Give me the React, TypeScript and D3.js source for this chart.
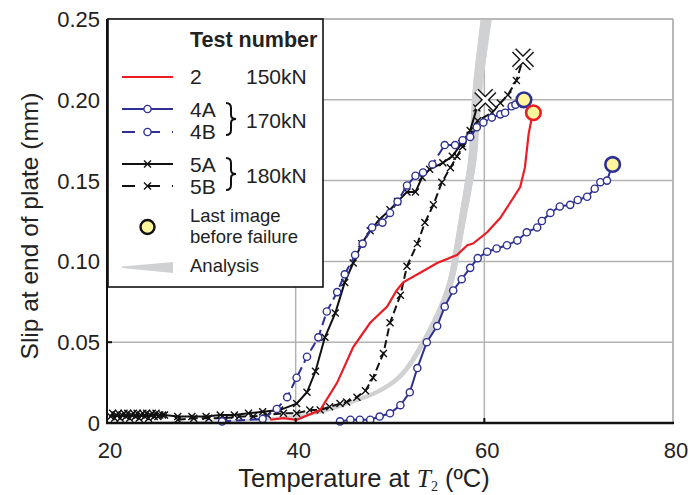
import * as d3 from "d3";

// ---- data (temperature °C, slip mm) ----
const tempTicks = [20, 40, 60, 80];
const slipTicks = [0, 0.05, 0.1, 0.15, 0.2, 0.25];
const slipTickLabels = ["0", "0.05", "0.10", "0.15", "0.20", "0.25"];

const test2: [number, number][] = [
  [37.3, 0.002], [38.7, 0.003], [40.1, 0.002], [42.6, 0.008], [44.4, 0.025],
  [46.1, 0.047], [47.9, 0.062], [49.7, 0.072], [50.7, 0.082], [51.4, 0.087],
  [53.2, 0.093], [55.0, 0.099], [57.1, 0.104], [58.2, 0.11], [58.8, 0.111],
  [60.3, 0.118], [61.7, 0.127], [62.7, 0.136], [63.8, 0.146], [64.3, 0.158],
  [64.7, 0.179], [65.1, 0.191],
];
const test2Last: [number, number] = [65.2, 0.192];

const test4A: [number, number][] = [
  [44.7, 0.001], [45.8, 0.002], [46.8, 0.002], [47.9, 0.002], [48.9, 0.004],
  [50.0, 0.006], [51.1, 0.011], [52.1, 0.019], [52.9, 0.034], [53.9, 0.05],
  [55.0, 0.06], [55.8, 0.072], [56.7, 0.082], [57.6, 0.089], [58.5, 0.096],
  [59.3, 0.102], [60.3, 0.106], [61.3, 0.108], [62.4, 0.11], [63.5, 0.113],
  [64.5, 0.118], [65.6, 0.121], [66.1, 0.125], [67.0, 0.13], [68.0, 0.134],
  [69.1, 0.135], [69.9, 0.138], [70.9, 0.14], [71.7, 0.145], [72.3, 0.149],
  [73.0, 0.15],
];
const test4ALast: [number, number] = [73.6, 0.16];

const test4B: [number, number][] = [
  [32.2, 0.001], [36.5, 0.0025], [38.0, 0.0087], [39.1, 0.016], [40.1, 0.028],
  [41.2, 0.041], [42.4, 0.053], [43.3, 0.069], [44.4, 0.081], [45.2, 0.092],
  [46.3, 0.104], [47.1, 0.111], [48.1, 0.121], [49.2, 0.124], [50.0, 0.13],
  [50.8, 0.137], [51.8, 0.147], [52.7, 0.153], [53.5, 0.155], [54.5, 0.16],
  [55.8, 0.172], [56.9, 0.172], [57.7, 0.175], [58.5, 0.177], [59.2, 0.183],
  [59.9, 0.186], [60.8, 0.189], [61.7, 0.191], [62.2, 0.192], [62.9, 0.196],
  [63.3, 0.197],
];
const test4BLast: [number, number] = [64.2, 0.2];

const test5A: [number, number][] = [
  [20.4, 0.004], [20.6, 0.006], [20.8, 0.003], [21.0, 0.005], [21.2, 0.006],
  [21.4, 0.003], [21.6, 0.005], [21.8, 0.006], [22.0, 0.004], [22.2, 0.006],
  [22.4, 0.003], [22.6, 0.005], [22.8, 0.006], [23.0, 0.004], [23.2, 0.006],
  [23.4, 0.003], [23.6, 0.005], [23.8, 0.006], [24.0, 0.004], [24.2, 0.006],
  [24.4, 0.003], [24.6, 0.005], [24.8, 0.006], [25.0, 0.004], [25.2, 0.006],
  [25.4, 0.004], [25.6, 0.005], [25.9, 0.005], [26.1, 0.005],
  [27.5, 0.004], [29.0, 0.004], [30.5, 0.004], [32.0, 0.005], [33.5, 0.005],
  [35.0, 0.006], [36.5, 0.007], [38.3, 0.008], [40.1, 0.012], [41.2, 0.019],
  [42.1, 0.032], [43.1, 0.053], [44.2, 0.068], [45.2, 0.087], [46.1, 0.099],
  [47.0, 0.111], [47.9, 0.119], [48.9, 0.126], [50.0, 0.132], [50.8, 0.137],
  [51.8, 0.143], [52.7, 0.143], [53.4, 0.152], [54.2, 0.157], [55.6, 0.161],
  [56.6, 0.165], [57.6, 0.173], [58.5, 0.181], [59.2, 0.195],
];
const test5ALast: [number, number] = [60.1, 0.2];

const test5B: [number, number][] = [
  [27.5, 0.002], [29.2, 0.003], [30.8, 0.003], [32.5, 0.003], [34.0, 0.004],
  [35.5, 0.004], [37.0, 0.005], [38.7, 0.006], [40.1, 0.006], [41.5, 0.008],
  [42.6, 0.008], [43.6, 0.01], [44.7, 0.012], [45.4, 0.013], [46.5, 0.016],
  [47.4, 0.02], [48.2, 0.028], [49.3, 0.043], [50.0, 0.062], [51.1, 0.079],
  [51.8, 0.097], [52.9, 0.111], [53.7, 0.124], [54.6, 0.135], [55.5, 0.149],
  [56.4, 0.158], [57.1, 0.165], [57.7, 0.171], [58.5, 0.178], [59.3, 0.187],
  [60.8, 0.192], [61.7, 0.198], [62.5, 0.203], [63.4, 0.212],
];
const test5BLast: [number, number] = [64.1, 0.225];

const analysis: [number, number][] = [
  [20, 0], [26, 0.0005], [32, 0.001], [38, 0.003], [42, 0.006], [45.4, 0.012],
  [48.9, 0.02], [51.4, 0.031], [53.5, 0.0495], [55.3, 0.07], [56.4, 0.087],
  [57.1, 0.107], [57.7, 0.127], [58.3, 0.147], [58.8, 0.167], [59.3, 0.208],
  [60.2, 0.25],
];

// ---- layout ----
const W = 690;
const H = 495;
const M = { left: 107, right: 673, top: 19, bottom: 423 };
const RED = "#ec1c24";
const BLUE = "#2e3192";
const YELLOW = "#fff59d";
const GRID = "#b3b3b3";
const BAND = "#d0d1d3";
const FONT = "'Liberation Sans', Arial, Helvetica, sans-serif";
const SERIF = "'Liberation Serif', 'Times New Roman', serif";

const x = d3.scaleLinear().domain([20, 80]).range([M.left, M.right]);
const y = d3.scaleLinear().domain([0, 0.25]).range([M.bottom, M.top]);

const line = d3
  .line<[number, number]>()
  .x((d) => x(d[0]))
  .y((d) => y(d[1]));

const Cross = ({ cx, cy, s = 3.5, w = 1.4 }: { cx: number; cy: number; s?: number; w?: number }) => (
  <path
    d={`M${cx - s},${cy - s}L${cx + s},${cy + s}M${cx - s},${cy + s}L${cx + s},${cy - s}`}
    stroke="#111"
    strokeWidth={w}
    fill="none"
  />
);

const BigCross = ({ cx, cy }: { cx: number; cy: number }) => {
  const s = 9;
  const d = `M${cx - s},${cy - s}L${cx + s},${cy + s}M${cx - s},${cy + s}L${cx + s},${cy - s}`;
  return (
    <g>
      <path d={d} stroke="#111" strokeWidth={6} fill="none" />
      <path d={d} stroke="#fff" strokeWidth={3.2} fill="none" />
    </g>
  );
};

const Brace = ({ bx, y0, y1 }: { bx: number; y0: number; y1: number }) => {
  const ym = (y0 + y1) / 2;
  const d = `M${bx},${y0} Q${bx + 5},${y0} ${bx + 5},${y0 + 5} L${bx + 5},${ym - 4} Q${bx + 5},${ym} ${bx + 10},${ym} Q${bx + 5},${ym} ${bx + 5},${ym + 4} L${bx + 5},${y1 - 5} Q${bx + 5},${y1} ${bx},${y1}`;
  return <path d={d} stroke="#111" strokeWidth={2} fill="none" />;
};

// analysis band: smooth (Catmull-Rom) centre line in pixels, width growing along it
function bandSegments() {
  const p = analysis.map((d) => [x(d[0]), y(d[1])]);
  const dense: number[][] = [];
  for (let i = 0; i < p.length - 1; i++) {
    const p0 = p[Math.max(0, i - 1)];
    const p1 = p[i];
    const p2 = p[i + 1];
    const p3 = p[Math.min(p.length - 1, i + 2)];
    for (let k = 0; k < 12; k++) {
      const t = k / 12;
      const t2 = t * t;
      const t3 = t2 * t;
      const c = (j: number) =>
        0.5 *
        (2 * p1[j] +
          (-p0[j] + p2[j]) * t +
          (2 * p0[j] - 5 * p1[j] + 4 * p2[j] - p3[j]) * t2 +
          (-p0[j] + 3 * p1[j] - 3 * p2[j] + p3[j]) * t3);
      dense.push([c(0), c(1)]);
    }
  }
  dense.push(p[p.length - 1]);
  const lens = [0];
  for (let i = 1; i < dense.length; i++) {
    lens.push(lens[i - 1] + Math.hypot(dense[i][0] - dense[i - 1][0], dense[i][1] - dense[i - 1][1]));
  }
  const total = lens[lens.length - 1];
  const segs = [];
  for (let i = 1; i < dense.length; i++) {
    const f = (lens[i - 1] + lens[i]) / 2 / total;
    const w = 1 + 10 * Math.pow(f, 1.3);
    segs.push({ a: dense[i - 1], b: dense[i], w });
  }
  return segs;
}

export default function App() {
  const segs = bandSegments();
  const lx0 = 122;
  const lx1 = 173;
  const lxm = 147.5;
  return (
    <div style={{ position: "absolute", left: 0, top: 0 }}>
      <svg width={W} height={H} style={{ display: "block", fontFamily: FONT }}>
        <rect width={W} height={H} fill="#fff" />
        <defs>
          <clipPath id="plot">
            <rect x={M.left} y={M.top} width={M.right - M.left} height={M.bottom - M.top} />
          </clipPath>
        </defs>

        {/* grid */}
        {tempTicks.slice(1).map((t) => (
          <line key={t} x1={x(t)} x2={x(t)} y1={M.top} y2={M.bottom} stroke={GRID} strokeWidth={1.5} />
        ))}
        {slipTicks.slice(1).map((s) => (
          <line key={s} x1={M.left} x2={M.right} y1={y(s)} y2={y(s)} stroke={GRID} strokeWidth={1.5} />
        ))}

        {/* analysis band */}
        <g clipPath="url(#plot)">
          {segs.map((s, i) => (
            <line
              key={i}
              x1={s.a[0]}
              y1={s.a[1]}
              x2={s.b[0]}
              y2={s.b[1]}
              stroke={BAND}
              strokeWidth={s.w}
              strokeLinecap="round"
            />
          ))}
        </g>

        {/* test 5B */}
        <path d={line([...test5B, test5BLast]) ?? ""} fill="none" stroke="#111" strokeWidth={2} strokeDasharray="8 4" />
        {test5B.map((d, i) => (
          <Cross key={i} cx={x(d[0])} cy={y(d[1])} />
        ))}
        {/* test 5A */}
        <path d={line([...test5A, test5ALast]) ?? ""} fill="none" stroke="#111" strokeWidth={2} />
        {test5A.map((d, i) => (
          <Cross key={i} cx={x(d[0])} cy={y(d[1])} />
        ))}

        {/* test 2 */}
        <path d={line([...test2, test2Last]) ?? ""} fill="none" stroke={RED} strokeWidth={2.2} />

        {/* test 4B */}
        <path d={line([...test4B, test4BLast]) ?? ""} fill="none" stroke={BLUE} strokeWidth={2} strokeDasharray="9 5" />
        {test4B.map((d, i) => (
          <circle key={i} cx={x(d[0])} cy={y(d[1])} r={3.6} fill="#fff" stroke={BLUE} strokeWidth={1.4} />
        ))}
        {/* test 4A */}
        <path d={line([...test4A, test4ALast]) ?? ""} fill="none" stroke={BLUE} strokeWidth={2} />
        {test4A.map((d, i) => (
          <circle key={i} cx={x(d[0])} cy={y(d[1])} r={3.6} fill="#fff" stroke={BLUE} strokeWidth={1.4} />
        ))}

        {/* last image markers */}
        <BigCross cx={x(test5ALast[0])} cy={y(test5ALast[1])} />
        <BigCross cx={x(test5BLast[0])} cy={y(test5BLast[1])} />
        <circle cx={x(test4BLast[0])} cy={y(test4BLast[1])} r={7.3} fill={YELLOW} stroke={BLUE} strokeWidth={2.6} />
        <circle cx={x(test4ALast[0])} cy={y(test4ALast[1])} r={7.3} fill={YELLOW} stroke={BLUE} strokeWidth={2.6} />
        <circle cx={x(test2Last[0])} cy={y(test2Last[1])} r={7.3} fill={YELLOW} stroke={RED} strokeWidth={2.6} />

        {/* frame */}
        <line x1={M.right} x2={M.right} y1={M.top} y2={M.bottom} stroke={GRID} strokeWidth={1.5} />
        <line x1={M.left} x2={M.right} y1={M.top} y2={M.top} stroke={GRID} strokeWidth={1.5} />
        {tempTicks.slice(1, -1).map((t) => (
          <line key={t} x1={x(t)} x2={x(t)} y1={M.bottom} y2={M.bottom - 5} stroke="#111" strokeWidth={2} />
        ))}
        {slipTicks.slice(1, -1).map((s) => (
          <line key={s} x1={M.left} x2={M.left + 5} y1={y(s)} y2={y(s)} stroke="#111" strokeWidth={2} />
        ))}
        <line x1={M.left} x2={M.left} y1={M.top} y2={M.bottom + 1} stroke="#111" strokeWidth={2} />
        <line x1={M.left - 1} x2={M.right + 1} y1={M.bottom} y2={M.bottom} stroke="#111" strokeWidth={2.6} />

        {/* tick labels */}
        {tempTicks.map((t) => (
          <text key={t} x={x(t) + 3} y={458} textAnchor="middle" fontSize={22} fill="#222">
            {t}
          </text>
        ))}
        {slipTicks.map((s, i) => (
          <text key={s} x={100} y={y(s)} dy="0.36em" textAnchor="end" fontSize={22} fill="#222">
            {slipTickLabels[i]}
          </text>
        ))}

        {/* axis titles */}
        <text x={364} y={487} textAnchor="middle" fontSize={25.5} fill="#222">
          <tspan>Temperature at </tspan>
          <tspan fontFamily={SERIF} fontStyle="italic">T</tspan>
          <tspan fontFamily={SERIF} fontSize={14} dy={4}>2</tspan>
          <tspan dy={-4}> (ºC)</tspan>
        </text>
        <text transform={`translate(38,226) rotate(-90)`} textAnchor="middle" fontSize={24.5} fill="#222">
          Slip at end of plate (mm)
        </text>

        {/* legend */}
        <rect x={108} y={19} width={215} height={268} fill="#fff" stroke="#111" strokeWidth={1.6} />
        <g fontSize={21} fill="#222">
          <text x={190} y={47} fontWeight="bold" fontSize={21.5}>Test number</text>

          <line x1={lx0} x2={lx1} y1={77} y2={77} stroke={RED} strokeWidth={2.2} />
          <text x={190} y={84}>2</text>
          <text x={246} y={84}>150kN</text>

          <line x1={lx0} x2={lx1} y1={109} y2={109} stroke={BLUE} strokeWidth={2} />
          <circle cx={lxm} cy={109} r={3.6} fill="#fff" stroke={BLUE} strokeWidth={1.4} />
          <text x={190} y={116.5}>4A</text>
          <line x1={lx0} x2={lx1} y1={132} y2={132} stroke={BLUE} strokeWidth={2} strokeDasharray="13 12" />
          <circle cx={lxm} cy={132} r={3.6} fill="#fff" stroke={BLUE} strokeWidth={1.4} />
          <text x={190} y={139}>4B</text>
          <Brace bx={226} y0={103} y1={135} />
          <text x={246} y={127.5}>170kN</text>

          <line x1={lx0} x2={lx1} y1={164} y2={164} stroke="#111" strokeWidth={2} />
          <Cross cx={lxm} cy={164} />
          <text x={190} y={171.5}>5A</text>
          <line x1={lx0} x2={lx1} y1={186} y2={186} stroke="#111" strokeWidth={2} strokeDasharray="13 12" />
          <Cross cx={lxm} cy={186} />
          <text x={190} y={194}>5B</text>
          <Brace bx={226} y0={158} y1={190} />
          <text x={246} y={182.5}>180kN</text>

          <circle cx={lxm} cy={227} r={7} fill={YELLOW} stroke="#111" strokeWidth={2.4} />
          <text x={190} y={221.5} fontSize={18.5}>Last image</text>
          <text x={190} y={242.5} fontSize={18.5}>before failure</text>

          <path d={`M${lx0},266.5 L${lx1},262 L${lx1},273 L${lx0},268 Z`} fill={BAND} />
          <text x={190} y={272} fontSize={18.5}>Analysis</text>
        </g>
      </svg>
    </div>
  );
}
